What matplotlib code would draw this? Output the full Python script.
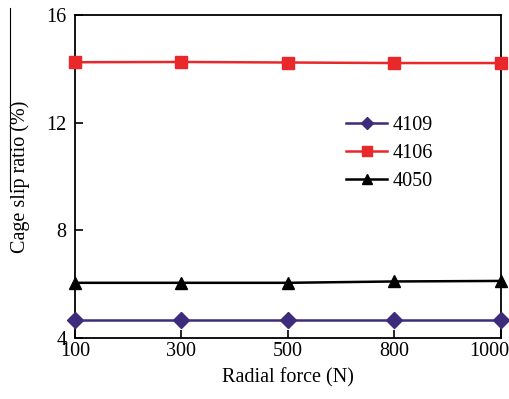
import matplotlib
matplotlib.use("Agg")
import matplotlib.pyplot as plt
import matplotlib.transforms as mtrans
from matplotlib.lines import Line2D

plt.rcParams["font.family"] = ["Liberation Serif", "DejaVu Serif"]

forces = ["100", "300", "500", "800", "1000"]
slip_4109 = [4.65, 4.65, 4.65, 4.65, 4.65]
slip_4106 = [14.25, 14.26, 14.24, 14.22, 14.22]
slip_4050 = [6.05, 6.05, 6.05, 6.1, 6.12]

fig = plt.figure(figsize=(5.1, 3.99), dpi=100, facecolor="white")
ax = fig.add_axes([0.147, 0.153, 0.835, 0.809])

x = range(len(forces))
ax.plot(x, slip_4109, color="#3d2b7c", marker="D", markersize=8, linewidth=1.8,
        label="4109", clip_on=False, zorder=3)
ax.plot(x, slip_4106, color="#e8282a", marker="s", markersize=9, linewidth=1.8,
        label="4106", clip_on=False, zorder=3)
ax.plot(x, slip_4050, color="black", marker="^", markersize=9, linewidth=1.8,
        label="4050", clip_on=False, zorder=3)

ax.set_xlim(0, len(forces) - 1)
ax.set_ylim(4, 16)
ax.set_xticks(list(x))
ax.set_xticklabels(forces)
ax.set_yticks([4, 8, 12, 16])
ax.tick_params(direction="in", length=6, width=1.2, labelsize=14.5, pad=3)
ax.tick_params(axis="y", pad=6)
for sp in ax.spines.values():
    sp.set_linewidth(1.3)

# last label sits a bit left of its tick so it stays inside the figure
last = ax.get_xticklabels()[-1]
last.set_transform(last.get_transform()
                   + mtrans.ScaledTranslation(-0.12, 0, fig.dpi_scale_trans))

ax.set_xlabel("Radial force (N)", fontsize=14.5, labelpad=5)
ax.set_ylabel("Cage slip ratio (%)", fontsize=14.5, labelpad=12)

ax.legend(loc="upper left", bbox_to_anchor=(0.595, 0.745), frameon=False,
          fontsize=14.5, handlelength=2.0, handletextpad=0.3,
          labelspacing=0.45, markerscale=0.8)

# stray vertical rule at the left edge of the source image
fig.add_artist(Line2D([0.02, 0.02], [0.98, 0.525], color="black", linewidth=0.8))

fig.savefig("out.png", dpi=100, facecolor="white")
